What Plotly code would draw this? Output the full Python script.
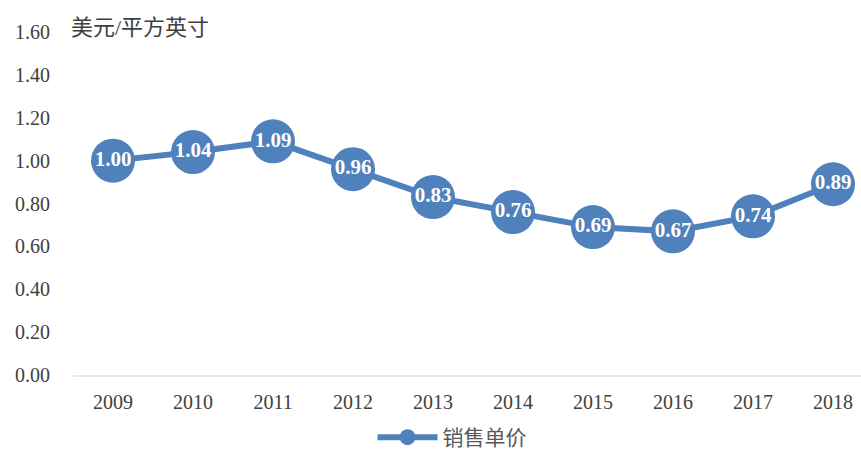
import plotly.graph_objects as go

years = ["2009", "2010", "2011", "2012", "2013", "2014", "2015", "2016", "2017", "2018"]
price = [1.00, 1.04, 1.09, 0.96, 0.83, 0.76, 0.69, 0.67, 0.74, 0.89]
series_name = "销售单价"
unit_label = "美元/平方英寸"
y_ticks = [0, 0.2, 0.4, 0.6, 0.8, 1.0, 1.2, 1.4, 1.6]

FONT = "Liberation Serif, Times New Roman, Noto Sans CJK SC, serif"
BLUE = "#4f81bd"

fig = go.Figure()
fig.add_trace(go.Scatter(
    x=years, y=price, name=series_name,
    mode="lines+markers+text",
    line=dict(color=BLUE, width=6),
    marker=dict(size=44, color=BLUE),
    text=[f"{v:.2f}" for v in price],
    textposition="middle center",
    textfont=dict(family=FONT, size=21, color="white", weight="bold"),
    cliponaxis=False,
))

fig.update_layout(
    width=861, height=458,
    margin=dict(l=73, r=0, t=32, b=83, autoexpand=False),
    paper_bgcolor="white", plot_bgcolor="white",
    font=dict(family=FONT, size=20, color="#404040"),
    showlegend=True,
    legend=dict(orientation="h", x=0.481, xanchor="center",
                yref="container", y=-0.016, yanchor="bottom",
                font=dict(family=FONT, size=21, color="#595959"), itemwidth=60),
    xaxis=dict(type="category", range=[-0.5, 9.35], showgrid=False,
               showline=True, linecolor="#ede8dd", linewidth=2,
               ticks="", tickfont=dict(size=20, color="#404040"), ticklabelstandoff=8),
    yaxis=dict(range=[0, 1.6], tickvals=y_ticks, ticktext=[f"{v:.2f}" for v in y_ticks],
               showgrid=False, zeroline=False, showline=False, ticks="",
               tickfont=dict(size=20, color="#404040"), ticklabelstandoff=22),
    annotations=[dict(text=unit_label, xref="paper", yref="paper", x=0, y=1.0,
                      xanchor="left", yanchor="bottom", yshift=-10, xshift=-4,
                      showarrow=False,
                      font=dict(family=FONT, size=22, color="#404040"))],
)

fig.write_html("out.html", config={"displayModeBar": False},
               post_script="document.body.style.margin='0';document.body.style.overflow='hidden';")
